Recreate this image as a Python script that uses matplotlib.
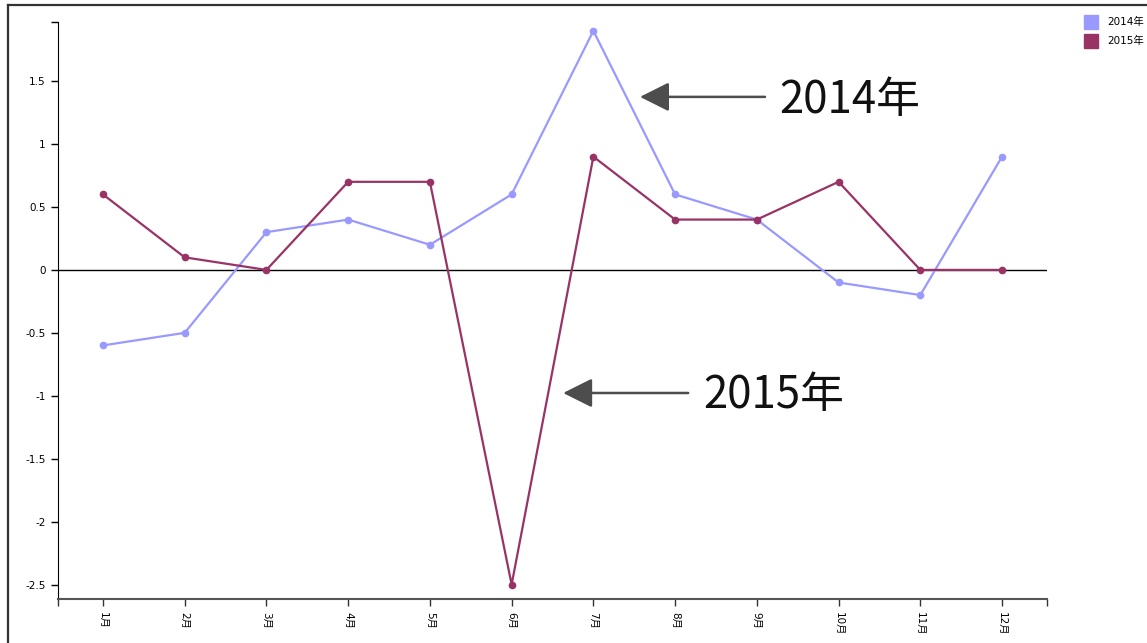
"""
2014年・2015年 月別推移の折れ線グラフ
"""

import matplotlib.pyplot as plt
from matplotlib.lines import Line2D
from matplotlib.patches import Rectangle

plt.rcParams['font.family'] = ['DejaVu Sans', 'Noto Sans CJK SC']

# データ
MONTHS = ["1月", "2月", "3月", "4月", "5月", "6月",
          "7月", "8月", "9月", "10月", "11月", "12月"]
VALUES_2014 = [-0.6, -0.5, 0.3, 0.4, 0.2, 0.6, 1.9, 0.6, 0.4, -0.1, -0.2, 0.9]
VALUES_2015 = [0.6, 0.1, 0.0, 0.7, 0.7, -2.5, 0.9, 0.4, 0.4, 0.7, 0.0, 0.0]
SERIES_NAMES = ["2014年", "2015年"]
YTICKS = [-2.5, -2, -1.5, -1, -0.5, 0, 0.5, 1, 1.5]

COLOR_2014 = "#9999ff"
COLOR_2015 = "#993366"

W, H = 1147, 643
fig = plt.figure(figsize=(W / 100, H / 100), dpi=100)
ax = fig.add_axes([58 / W, (H - 599) / H, (1047 - 58) / W, (599 - 22) / H])

x = list(range(len(MONTHS)))
ax.plot(x, VALUES_2014, color=COLOR_2014, lw=1.6, marker="o", ms=4.5, zorder=3)
ax.plot(x, VALUES_2015, color=COLOR_2015, lw=1.6, marker="o", ms=4.5, zorder=3)
ax.axhline(0, color="black", lw=1, zorder=2)

xmin, xmax = -0.55, 11.55
ymin, ymax = -2.615, 1.97
ax.set_xlim(xmin, xmax)
ax.set_ylim(ymin, ymax)

ax.set_xticks(x)
ax.set_xticklabels(MONTHS, rotation=-90, fontsize=7.5)
ax.set_xticks([xmin, xmax], minor=True)
ax.set_yticks(YTICKS)
ax.set_yticklabels([f"{v:g}" for v in YTICKS], fontsize=7.5)
ax.set_yticks([ymax], minor=True)
ax.tick_params(axis="both", which="both", length=5, width=1, direction="out", pad=4)
ax.tick_params(axis="x", which="both", color="#333333")

for s in ("top", "right"):
    ax.spines[s].set_visible(False)
ax.spines["left"].set_color("black")
ax.spines["bottom"].set_color("#555555")
ax.spines["bottom"].set_linewidth(1.5)

# 注釈の矢印とテキスト
arrow = dict(arrowstyle="-|>,head_length=0.9,head_width=0.45",
             color="#4d4d4d", lw=1.8, mutation_scale=20, shrinkA=0, shrinkB=0)
ax.annotate("", xy=(6.57, 1.375), xytext=(8.10, 1.375), arrowprops=arrow)
ax.text(8.28, 1.35, SERIES_NAMES[0], fontsize=31.5, va="center", ha="left",
        family=["Noto Sans CJK SC"], color="#111111")
ax.annotate("", xy=(5.63, -0.978), xytext=(7.16, -0.978), arrowprops=arrow)
ax.text(7.34, -0.99, SERIES_NAMES[1], fontsize=31.5, va="center", ha="left",
        family=["Noto Sans CJK SC"], color="#111111")

# 凡例
for i, (name, c) in enumerate(zip(SERIES_NAMES, [COLOR_2014, COLOR_2015])):
    top = 15 + i * 19
    fig.add_artist(Rectangle((1084 / W, (H - top - 14) / H), 14 / W, 14 / H,
                             transform=fig.transFigure, color=c))
    fig.text(1107 / W, (H - top - 7) / H, name, fontsize=7.5, va="center")

# 外枠
fig.add_artist(Line2D([8 / W, 1], [(H - 5) / H] * 2, color="#333333", lw=1.6,
                      transform=fig.transFigure))
fig.add_artist(Line2D([8 / W] * 2, [0, (H - 5) / H], color="#333333", lw=1.6,
                      transform=fig.transFigure))

plt.savefig("out.png", dpi=100)
